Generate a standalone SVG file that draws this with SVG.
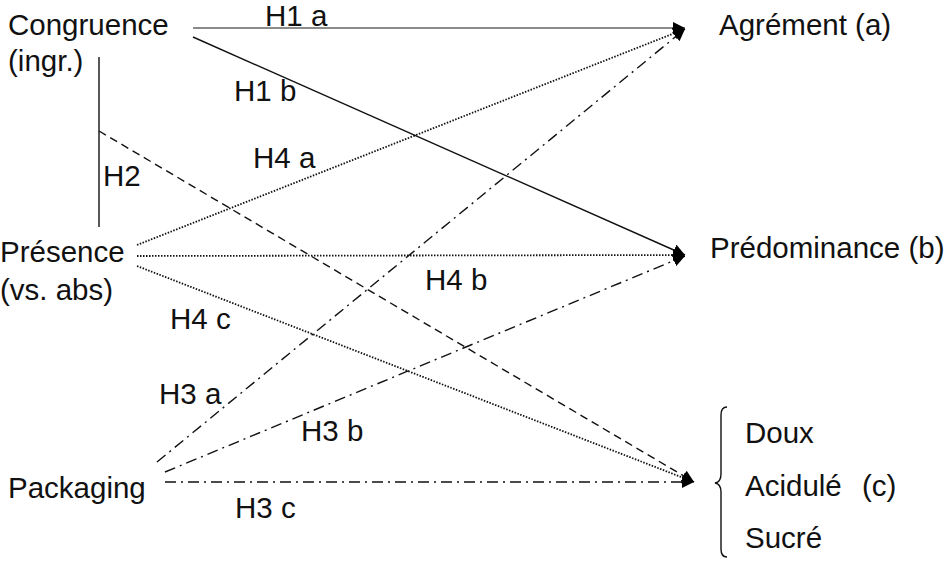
<svg xmlns="http://www.w3.org/2000/svg" width="947" height="562" viewBox="0 0 947 562">
<style>
text{font-family:"Liberation Sans",Arial,sans-serif;font-size:29.5px;fill:#111}
.ln{fill:none;stroke:#111;stroke-width:1.4}
.gray{stroke:#8a8a8a;stroke-width:2}
.dash{stroke-dasharray:8 5}
.dot{stroke-dasharray:1.5 1.5;stroke-width:1.8}
.dd{stroke-dasharray:11 5 2 5}
</style>
<defs>
<marker id="ah" viewBox="0 0 10 10" refX="10" refY="5" markerWidth="12" markerHeight="12" markerUnits="userSpaceOnUse" orient="auto">
<path d="M0,0 L10,5 L0,10 z" fill="#000"/>
</marker>
</defs>
<rect width="947" height="562" fill="#fff"/>
<g id="congruence"><text x="8" y="35">Congruence</text><text x="8" y="71">(ingr.)</text></g>
<g id="presence"><text x="0" y="262">Présence</text><text x="0" y="300">(vs. abs)</text></g>
<g id="packaging"><text x="8" y="498">Packaging</text></g>
<g id="agrement"><text x="719" y="35">Agrément (a)</text></g>
<g id="predominance"><text x="710" y="258">Prédominance (b)</text></g>
<g id="gout">
<path class="ln" d="M727,407 Q721,407 721,415 L721,474 Q721,482 715,483 Q721,484 721,492 L721,549 Q721,557 727,557" stroke-width="1"/>
<text x="745" y="443">Doux</text><text x="745" y="496">Acidulé</text><text x="862" y="496">(c)</text><text x="745" y="548">Sucré</text>
</g>
<g id="connectors">
<line class="ln gray" x1="193" y1="28" x2="685" y2="28" marker-end="url(#ah)"/>
<line class="ln" x1="193" y1="37" x2="685" y2="255" marker-end="url(#ah)"/>
<line class="ln" x1="99" y1="57" x2="99" y2="227"/>
<line class="ln dash" x1="99" y1="131" x2="694" y2="482" marker-end="url(#ah)"/>
<line class="ln dot" x1="137" y1="245" x2="685" y2="29" marker-end="url(#ah)"/>
<line class="ln dot" x1="137" y1="256" x2="685" y2="255" marker-end="url(#ah)"/>
<line class="ln dot" x1="137" y1="266" x2="694" y2="482" marker-end="url(#ah)"/>
<line class="ln dd" x1="157" y1="462" x2="685" y2="29" marker-end="url(#ah)"/>
<line class="ln dd" x1="165" y1="472" x2="685" y2="256" marker-end="url(#ah)"/>
<line class="ln dd" x1="165" y1="482" x2="694" y2="482" marker-end="url(#ah)"/>
</g>
<g id="labels">
<text x="265" y="26">H1 a</text>
<text x="234" y="101">H1 b</text>
<text x="253" y="168">H4 a</text>
<text x="103" y="186">H2</text>
<text x="425" y="290">H4 b</text>
<text x="170" y="329">H4 c</text>
<text x="159" y="404">H3 a</text>
<text x="301" y="441">H3 b</text>
<text x="235" y="518">H3 c</text>
</g>
</svg>
